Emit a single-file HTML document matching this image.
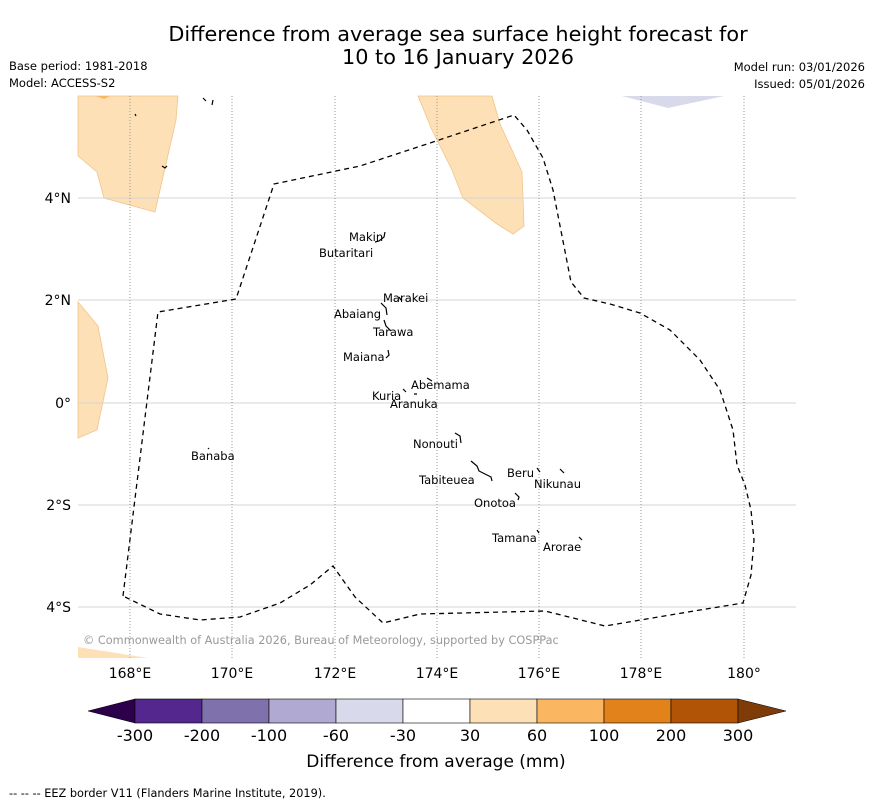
<!DOCTYPE html>
<html><head><meta charset="utf-8"><style>
body{margin:0;background:#fff;width:873px;height:804px;overflow:hidden;font-family:"DejaVu Sans","Liberation Sans",sans-serif}
</style></head><body>
<svg width="873" height="804" xmlns="http://www.w3.org/2000/svg" font-family="DejaVu Sans, Liberation Sans, sans-serif">
<text x="458" y="41" font-size="20.8" text-anchor="middle">Difference from average sea surface height forecast for</text>
<text x="458" y="64" font-size="20.8" text-anchor="middle">10 to 16 January 2026</text>
<text x="9" y="70" font-size="11.5">Base period: 1981-2018</text>
<text x="9" y="87" font-size="11.5">Model: ACCESS-S2</text>
<text x="865" y="71" font-size="11.5" text-anchor="end">Model run: 03/01/2026</text>
<text x="865" y="88" font-size="11.5" text-anchor="end">Issued: 05/01/2026</text>
<g>
<polygon points="78,96 178,96 176,120 155,212 104,198 97,172 78,156" fill="#fde0b6" stroke="#f1c48a" stroke-width="0.8"/>
<polygon points="418,96 492,96 500,124 522,172 524,226 513,234 497,224 463,198 452,170 432,130" fill="#fde0b6" stroke="#f1c48a" stroke-width="0.8"/>
<polygon points="78,302 98,326 108,378 97,430 78,438" fill="#fde0b6" stroke="#f1c48a" stroke-width="0.8"/>
<polygon points="78,647 148,658 78,658" fill="#fde0b6"/>
<polygon points="622,96 724,96 668,108" fill="#d8d9ea"/>
<polygon points="96,96 110,96 104,99" fill="#fbb661"/>
<g stroke="#d4d4d4" stroke-width="1">
<line x1="78" y1="198" x2="796" y2="198"/><line x1="78" y1="300" x2="796" y2="300"/><line x1="78" y1="403" x2="796" y2="403"/><line x1="78" y1="505" x2="796" y2="505"/><line x1="78" y1="607" x2="796" y2="607"/>
</g>
<g stroke="#999" stroke-width="1" stroke-dasharray="1,2">
<line x1="130" y1="96" x2="130" y2="658"/><line x1="232" y1="96" x2="232" y2="658"/><line x1="335" y1="96" x2="335" y2="658"/><line x1="437" y1="96" x2="437" y2="658"/><line x1="539" y1="96" x2="539" y2="658"/><line x1="641" y1="96" x2="641" y2="658"/><line x1="744" y1="96" x2="744" y2="658"/>
</g>
<polyline points="123,596 158,312 236,299 274,184 360,166 430,143 514,115 527,130 543,158 553,190 571,282 584,298 610,304 640,313 670,330 700,360 720,390 733,430 737,465 745,485 751,510 754,540 751,575 743,603 700,610 605,626 545,611 420,614 383,623 355,597 333,566 310,585 280,603 240,617 200,620 160,614 123,596" fill="none" stroke="#000" stroke-width="1.3" stroke-dasharray="5,4"/>
<g stroke="#000" stroke-width="1.2" fill="none">
<path d="M135,114 l1,2"/><path d="M203,98 l3,3 M213,100 l-1,5"/><path d="M162,166 l3,2 l2,-2"/>
<path d="M385,232 l-1,5 l-5,4 l-4,1"/><path d="M399,297 l2,3"/><path d="M381,303 l5,5 l1,7"/><path d="M384,320 l2,6 l5,5"/><path d="M388,350 l1,5 l-3,3"/>
<path d="M427,378 l5,3"/><path d="M403,389 l3,3 M414,394 l3,0"/><path d="M455,433 l5,3 l1,7"/><path d="M471,461 l6,5 l2,5 l6,3 l6,3 l1,4"/>
<path d="M537,468 l3,4"/><path d="M560,469 l4,4"/><path d="M515,493 l4,4 l-1,3"/><path d="M537,530 l2,3"/><path d="M579,537 l3,3"/><path d="M208,448 l1,1"/>
</g>
<g font-size="11.5" fill="#000">
<text x="349" y="241">Makin</text><text x="319" y="257">Butaritari</text><text x="383" y="302">Marakei</text><text x="334" y="318">Abaiang</text><text x="373" y="336">Tarawa</text><text x="343" y="361">Maiana</text><text x="411" y="389">Abemama</text><text x="372" y="400">Kuria</text><text x="390" y="408">Aranuka</text><text x="413" y="448">Nonouti</text><text x="507" y="477">Beru</text><text x="534" y="488">Nikunau</text><text x="419" y="484">Tabiteuea</text><text x="474" y="507">Onotoa</text><text x="492" y="542">Tamana</text><text x="543" y="551">Arorae</text><text x="191" y="460">Banaba</text>
</g>
<text x="83" y="644" font-size="11.3" fill="#999">© Commonwealth of Australia 2026, Bureau of Meteorology, supported by COSPPac</text>
</g>
<g font-size="14" fill="#000" text-anchor="end">
<text x="71" y="203">4°N</text><text x="71" y="305">2°N</text><text x="71" y="408">0°</text><text x="71" y="510">2°S</text><text x="71" y="612">4°S</text>
</g>
<g font-size="14" fill="#000" text-anchor="middle">
<text x="130" y="678">168°E</text><text x="232" y="678">170°E</text><text x="335" y="678">172°E</text><text x="437" y="678">174°E</text><text x="539" y="678">176°E</text><text x="641" y="678">178°E</text><text x="744" y="678">180°</text>
</g>
<g id="cb"></g>
<text x="436" y="767" font-size="17" text-anchor="middle">Difference from average (mm)</text>
<text x="9" y="797" font-size="11.3">--  --  -- EEZ border V11 (Flanders Marine Institute, 2019).</text>
</svg>
<script>
const cbTicks=["-300","-200","-100","-60","-30","30","60","100","200","300"];
const cbColors=["#54278f","#7f71ab","#b0a9d1","#d8d9ea","#ffffff","#fde0b6","#fbb661","#e2821a","#b25406"];
const g=document.getElementById('cb');
const ns="http://www.w3.org/2000/svg";
const x0=135,w=67,y0=699,h=24;
function mk(t,a){const e=document.createElementNS(ns,t);for(const k in a)e.setAttribute(k,a[k]);g.appendChild(e);return e;}
let p=mk('polygon',{points:`${x0},${y0} ${x0},${y0+h} 88,${y0+h/2}`,fill:'#2d004b',stroke:'#000','stroke-width':0.5});


cbColors.forEach((c,i)=>{
 const r=mk('rect',{x:x0+i*w,y:y0,width:w,height:h,fill:c,stroke:'#000','stroke-width':0.6});
 
 
});
const xe=x0+cbColors.length*w;
p=mk('polygon',{points:`${xe},${y0} ${xe},${y0+h} 786,${y0+h/2}`,fill:'#7f3b08',stroke:'#000','stroke-width':0.5});


cbTicks.forEach((t,i)=>{
 const e=mk('text',{x:x0+i*w,y:741,'font-size':16,'text-anchor':'middle'});
 e.textContent=t;
 
 
});
</script>
</body></html>
